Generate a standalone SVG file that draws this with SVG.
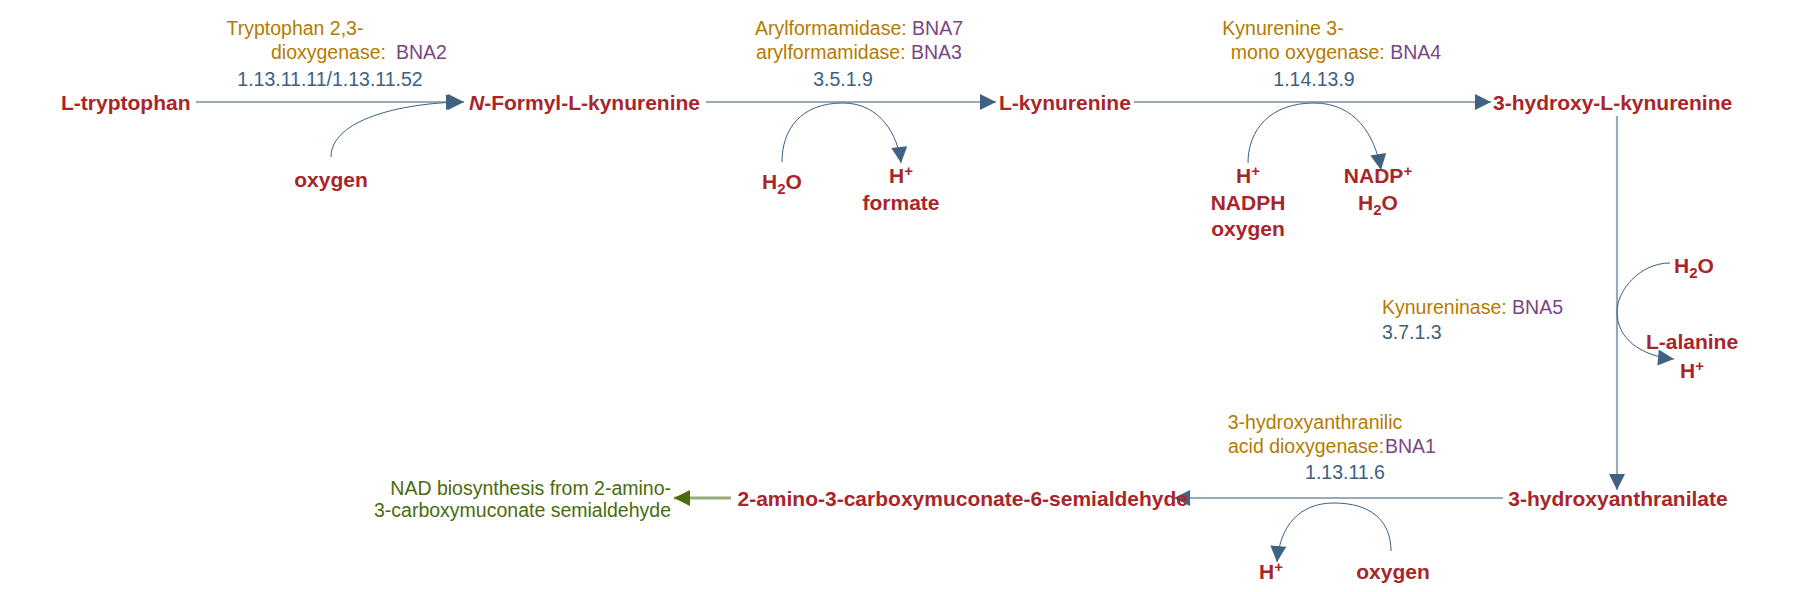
<svg xmlns="http://www.w3.org/2000/svg" width="1804" height="592" viewBox="0 0 1804 592">
<style>
text{font-family:"Liberation Sans",Arial,sans-serif;font-size:19.5px}
.c{fill:#a8262b;font-weight:bold;font-size:21px}
.e{fill:#b47b00}
.g{fill:#7a4683}
.n{fill:#3d6080}
.p{fill:#4a6b0c}
.m{text-anchor:middle}
.ln{stroke:#98a9ba;stroke-width:2.2;fill:none}
.arc{stroke:#3d6080;stroke-width:1;fill:none}
.s{font-size:15px}
</style>
<defs>
<marker id="ah" viewBox="0 0 10 10" refX="10" refY="5" markerWidth="18" markerHeight="16" markerUnits="userSpaceOnUse" orient="auto"><path d="M0,0L10,5L0,10z" fill="#3f6282"/></marker>
<marker id="ag" viewBox="0 0 10 10" refX="10" refY="5" markerWidth="18" markerHeight="16" markerUnits="userSpaceOnUse" orient="auto"><path d="M0,0L10,5L0,10z" fill="#4a6b0c"/></marker>
</defs>
<g id="connectors">
<line class="ln" x1="196" y1="102" x2="464" y2="102" marker-end="url(#ah)"/>
<path class="arc" d="M331,157 C331,120 400,103 462,102" marker-end="url(#ah)"/>
<line class="ln" x1="706" y1="102" x2="996" y2="102" marker-end="url(#ah)"/>
<path class="arc" d="M782,162 C782,130 800,103 843,103 C880,103 898,135 901,163" marker-end="url(#ah)"/>
<line class="ln" x1="1134" y1="102" x2="1491" y2="102" marker-end="url(#ah)"/>
<path class="arc" d="M1248,163 C1248,130 1270,103 1314,103 C1355,103 1375,135 1381,170" marker-end="url(#ah)"/>
<line class="ln" x1="1617" y1="116" x2="1617" y2="490" stroke-width="1.5" marker-end="url(#ah)"/>
<path class="arc" d="M1670,263 C1640,263 1617,290 1617,312 C1617,338 1640,356 1674,359" marker-end="url(#ah)"/>
<line class="ln" x1="1503" y1="498" x2="1174" y2="498" marker-end="url(#ah)"/>
<path class="arc" d="M1391,551 C1391,520 1370,503 1334,503 C1300,503 1280,525 1277,562" marker-end="url(#ah)"/>
<line x1="731" y1="498" x2="674" y2="498" stroke="#9aab7a" stroke-width="3" marker-end="url(#ag)"/>
</g>
<g id="L-tryptophan"><text class="c" x="61" y="110">L-tryptophan</text></g>
<g id="N-Formyl-L-kynurenine"><text class="c" x="469" y="110"><tspan font-style="italic">N</tspan>-Formyl-L-kynurenine</text></g>
<g id="L-kynurenine"><text class="c" x="999" y="110">L-kynurenine</text></g>
<g id="3-hydroxy-L-kynurenine"><text class="c" x="1493" y="110">3-hydroxy-L-kynurenine</text></g>
<g id="3-hydroxyanthranilate"><text class="c m" x="1618" y="506">3-hydroxyanthranilate</text></g>
<g id="2-amino-3-carboxymuconate-6-semialdehyde"><text class="c" x="1188" y="506" text-anchor="end">2-amino-3-carboxymuconate-6-semialdehyde</text></g>
<g id="NAD-pathway"><text class="p" text-anchor="end"><tspan x="671" y="495">NAD biosynthesis from 2-amino-</tspan><tspan x="671" y="517">3-carboxymuconate semialdehyde</tspan></text></g>
<g id="oxygen-1"><text class="c m" x="331" y="187">oxygen</text></g>
<g id="h2o-1"><text class="c m" x="782" y="189">H<tspan class="s" dy="5">2</tspan><tspan dy="-5">O</tspan></text></g>
<g id="h-formate"><text class="c m"><tspan x="901" y="183">H<tspan class="s" dy="-7">+</tspan></tspan><tspan x="901" y="210" dy="0">formate</tspan></text></g>
<g id="h-nadph-oxygen"><text class="c m"><tspan x="1248" y="183">H<tspan class="s" dy="-7">+</tspan></tspan><tspan x="1248" y="210">NADPH</tspan><tspan x="1248" y="236">oxygen</tspan></text></g>
<g id="nadp-h2o"><text class="c m"><tspan x="1378" y="183">NADP<tspan class="s" dy="-7">+</tspan></tspan><tspan x="1378" y="210">H<tspan class="s" dy="5">2</tspan><tspan dy="-5">O</tspan></tspan></text></g>
<g id="h2o-2"><text class="c" x="1674" y="273">H<tspan class="s" dy="5">2</tspan><tspan dy="-5">O</tspan></text></g>
<g id="alanine-h"><text class="c m"><tspan x="1692" y="349">L-alanine</tspan><tspan x="1692" y="378">H<tspan class="s" dy="-7">+</tspan></tspan></text></g>
<g id="h-3"><text class="c m" x="1271" y="579">H<tspan class="s" dy="-7">+</tspan></text></g>
<g id="oxygen-3"><text class="c m" x="1393" y="579">oxygen</text></g>
<g id="enzyme-1"><text class="e m" x="295" y="35">Tryptophan 2,3-</text><text x="271" y="59"><tspan class="e">dioxygenase:</tspan><tspan class="g" x="396">BNA2</tspan></text><text class="n m" x="330" y="86">1.13.11.11/1.13.11.52</text></g>
<g id="enzyme-2"><text class="m" x="859" y="35"><tspan class="e">Arylformamidase: </tspan><tspan class="g">BNA7</tspan></text><text class="m" x="859" y="59"><tspan class="e">arylformamidase: </tspan><tspan class="g">BNA3</tspan></text><text class="n m" x="843" y="86">3.5.1.9</text></g>
<g id="enzyme-3"><text class="e m" x="1283" y="35">Kynurenine 3-</text><text class="m" x="1336" y="59"><tspan class="e">mono oxygenase: </tspan><tspan class="g">BNA4</tspan></text><text class="n m" x="1314" y="86">1.14.13.9</text></g>
<g id="enzyme-4"><text x="1382" y="314"><tspan class="e">Kynureninase: </tspan><tspan class="g">BNA5</tspan></text><text class="n" x="1382" y="339">3.7.1.3</text></g>
<g id="enzyme-5"><text class="e m" x="1315" y="429">3-hydroxyanthranilic</text><text x="1228" y="453"><tspan class="e">acid dioxygenase:</tspan><tspan class="g" x="1385">BNA1</tspan></text><text class="n m" x="1345" y="479">1.13.11.6</text></g>
</svg>
